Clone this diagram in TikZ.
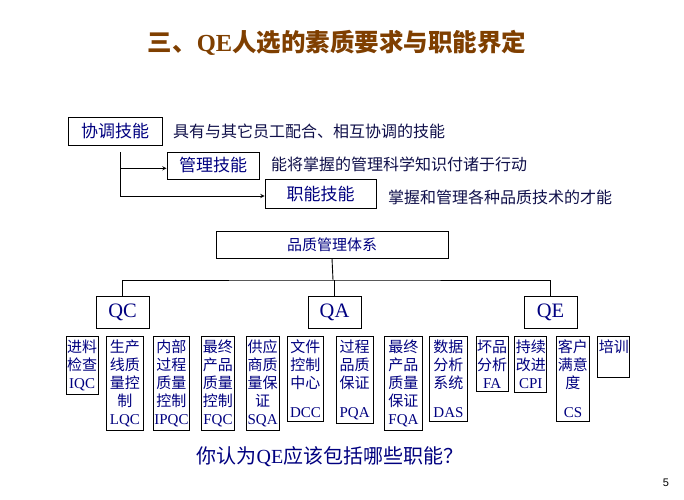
\documentclass[tikz,border=0pt]{standalone}
\usepackage{fontspec}
\setmainfont{Noto Sans CJK SC}
\newfontfamily\lat{Liberation Serif}
\newfontfamily\pagefont{Liberation Sans}
\usepackage{xcolor}
\definecolor{titlebrown}{HTML}{7F3F00}
\definecolor{navy}{HTML}{000080}
\definecolor{darktext}{HTML}{10104A}
\usepackage{tikz}
\usetikzlibrary{positioning,arrows}
\newcommand{\funcbox}[4]{
\node (#1) [funcbox, minimum width=#3pt] at (#2,336) {#4};}
\tikzstyle{box}=[rectangle, draw=black, line width=0.9pt, text=navy]
\tikzstyle{skill}=[box, font=\fontsize{17}{20}\selectfont, inner xsep=0pt]
\tikzstyle{branch}=[box, font=\lat\fontsize{20.5}{24}\selectfont, minimum width=53pt, minimum height=32pt]
\tikzstyle{funcbox}=[box, anchor=north west, align=center, font=\fontsize{15}{18}\selectfont,
        inner xsep=1pt, inner ysep=3.5pt]
\tikzstyle{note}=[anchor=west, text=darktext, font=\fontsize{16}{19}\selectfont, inner sep=0pt]
\tikzstyle{link}=[line width=0.9pt]
\tikzstyle{skillLine}=[link,->,>=stealth]

\begin{document}
\begin{tikzpicture}[x=1pt, y=-1pt]

\fill[white] (0,0) rectangle (684,499);
\useasboundingbox (0,0) rectangle (684,499);

\node (title) at (337,43) [text=titlebrown, font=\fontsize{24.5}{28}\selectfont\bfseries]
    {三、{\lat\bfseries QE}人选的素质要求与职能界定};

% skills
\node (xietiao) [skill, minimum width=94pt, minimum height=28pt] at (115,131) {协调技能};
\node (guanli) [skill, minimum width=92pt, minimum height=27pt] at (213,165.5) {管理技能};
\node (zhineng) [skill, minimum width=111pt, minimum height=29pt] at (320.5,193.7) {职能技能};
\node (xietiaoNote) [note] at (173,131.5) {具有与其它员工配合、相互协调的技能};
\node (guanliNote) [note] at (271,164) {能将掌握的管理科学知识付诸于行动};
\node (zhinengNote) [note] at (388,197.5) {掌握和管理各种品质技术的才能};

\coordinate (skillTop) at ([xshift=5.7pt,yshift=-7pt]xietiao.south);
\draw[skillLine] (skillTop) |- ([yshift=-2.8pt]guanli.west);
\draw[skillLine] (skillTop) |- ([yshift=-2.3pt]zhineng.west);

% quality system
\node (system) [box, minimum width=232pt, minimum height=27pt,
    font=\fontsize{15}{18}\selectfont] at (332,244.5) {品质管理体系};
\node (qc) [branch] at (122.5,312) {QC};
\node (qa) [branch] at (334.5,312) {QA};
\node (qe) [branch] at (550.5,312) {QE};

\coordinate (bar) at (333,280);
\draw[link] (system.south) -- (bar);
\draw[link] (qc.north) |- (bar) -| (qe.north);
\draw[link] (qa.north) -- (qa.north |- bar);

% functions
\funcbox{iqc}{65.7}{31.6}{进料\\检查\\{\lat IQC}}
\funcbox{lqc}{105.7}{37.6}{生产\\线质\\量控\\制\\{\lat LQC}}
\funcbox{ipqc}{152.7}{36.6}{内部\\过程\\质量\\控制\\{\lat IPQC}}
\funcbox{fqc}{200.7}{33.6}{最终\\产品\\质量\\控制\\{\lat FQC}}
\funcbox{sqa}{245.7}{33}{供应\\商质\\量保\\证\\{\lat SQA}}
\funcbox{dcc}{286.7}{36.6}{文件\\控制\\中心\\[11pt]{\lat DCC}}
\funcbox{pqa}{335.7}{37}{过程\\品质\\保证\\[11pt]{\lat PQA}}
\funcbox{fqa}{384.3}{37.4}{最终\\产品\\质量\\保证\\{\lat FQA}}
\funcbox{das}{429.3}{37.4}{数据\\分析\\系统\\[11pt]{\lat DAS}}
\funcbox{fa}{475.7}{31.6}{坏品\\分析\\{\lat FA}}
\funcbox{cpi}{514.3}{31.7}{持续\\改进\\{\lat CPI}}
\funcbox{cs}{555.7}{33.6}{客户\\满意\\度\\[11pt]{\lat CS}}
\funcbox{training}{597.3}{30}{培训\\[3pt]\mbox{}}

\node (question) at (330,456.7) [text=navy, font=\fontsize{20}{24}\selectfont]
    {你认为{\lat QE}应该包括哪些职能？};
\node (pagenum) at (666,483) [font=\pagefont\fontsize{11}{13}\selectfont] {5};

\end{tikzpicture}
\end{document}
